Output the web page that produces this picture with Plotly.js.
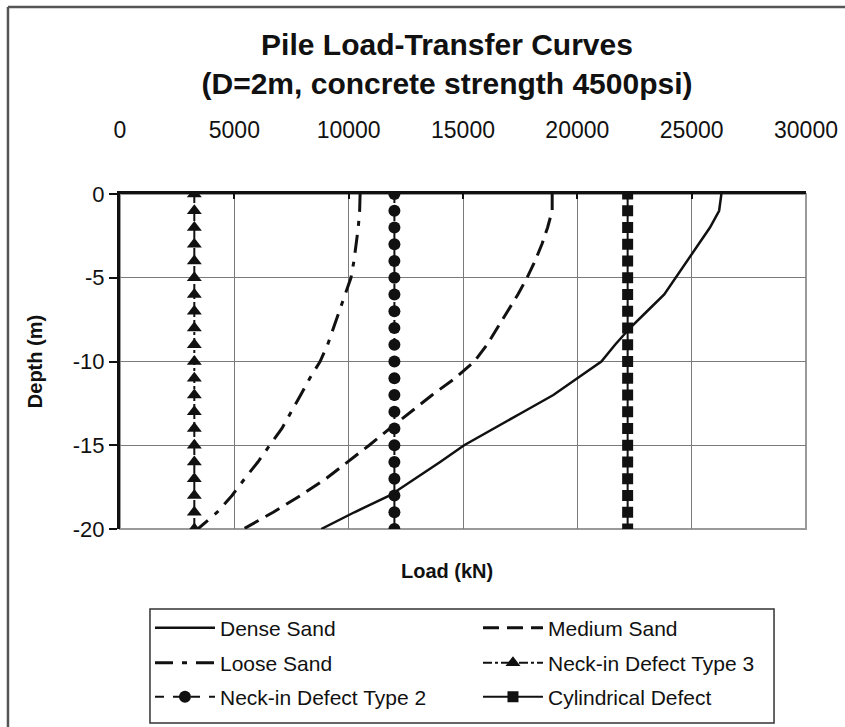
<!DOCTYPE html>
<html>
<head>
<meta charset="utf-8">
<script src="https://cdn.plot.ly/plotly-3.0.1.min.js"></script>
<style>html,body{margin:0;padding:0;background:#fff;overflow:hidden;}#chart{width:845px;height:727px;overflow:hidden;}</style>
</head>
<body>
<div id="chart"></div>
<script>
// Depth (m) at which each load value is read
const depth = [0,-1,-2,-3,-4,-5,-6,-7,-8,-9,-10,-11,-12,-13,-14,-15,-16,-17,-18,-19,-20];

// Load (kN) series
const denseSand   = [26300,26200,25800,25300,24800,24300,23800,23050,22300,21650,21050,20000,18950,17650,16350,15050,14000,12900,11800,10250,8800];
const mediumSand  = [18900,18900,18700,18450,18150,17800,17400,16950,16500,16050,15500,14650,13650,12700,11800,10900,9950,9000,7900,6700,5400];
const looseSand   = [10500,10480,10420,10330,10230,10100,9850,9600,9350,9080,8750,8300,7900,7500,7080,6550,6030,5450,4900,4250,3400];
const neckType3   = [3250,3250,3250,3250,3250,3250,3250,3250,3250,3250,3250,3250,3250,3250,3250,3250,3250,3250,3250,3250,3250];
const neckType2   = [12000,12000,12000,12000,12000,12000,12000,12000,12000,12000,12000,12000,12000,12000,12000,12000,12000,12000,12000,12000,12000];
const cylindrical = [22200,22200,22200,22200,22200,22200,22200,22200,22200,22200,22200,22200,22200,22200,22200,22200,22200,22200,22200,22200,22200];

const seriesNames = ['Dense Sand','Medium Sand','Loose Sand','Neck-in Defect Type 3','Neck-in Defect Type 2','Cylindrical Defect'];

// Tick labels
const xTickVals = [0,5000,10000,15000,20000,25000,30000];
const xTickText = ['0','5000','10000','15000','20000','25000','30000'];
const yTickVals = [0,-5,-10,-15,-20];
const yTickText = ['0','-5','-10','-15','-20'];

const FONT = 'Liberation Sans, Arial, sans-serif';
const black = '#111111';

const traces = [
  {x: denseSand, y: depth, name: seriesNames[0], mode: 'lines', legend: 'legend',
   line: {color: black, width: 2.5}},
  {x: mediumSand, y: depth, name: seriesNames[1], mode: 'lines', legend: 'legend',
   line: {color: black, width: 3, dash: '16px,8px'}},
  {x: looseSand, y: depth, name: seriesNames[2], mode: 'lines', legend: 'legend2',
   line: {color: black, width: 3, dash: '18px,9px,5px,9px'}},
  {x: neckType3, y: depth, name: seriesNames[3], mode: 'lines+markers', legend: 'legend2',
   line: {color: black, width: 2, dash: 'dashdot'},
   marker: {symbol: 'triangle-up', size: 13, color: black}},
  {x: neckType2, y: depth, name: seriesNames[4], mode: 'lines+markers', legend: 'legend3',
   line: {color: black, width: 2, dash: 'dash'},
   marker: {symbol: 'circle', size: 12, color: black}},
  {x: cylindrical, y: depth, name: seriesNames[5], mode: 'lines+markers', legend: 'legend3',
   line: {color: black, width: 2},
   marker: {symbol: 'square', size: 11, color: black}}
];

function legendRow(yPaper) {
  return {
    orientation: 'h', x: 0.0437, xanchor: 'left', y: yPaper, yanchor: 'middle',
    itemwidth: 60,
    entrywidth: 253, entrywidthmode: 'pixels',
    bgcolor: 'rgba(0,0,0,0)', borderwidth: 0,
    font: {family: FONT, size: 21, color: black},
    traceorder: 'normal'
  };
}

const layout = {
  width: 845, height: 727,
  paper_bgcolor: '#ffffff', plot_bgcolor: '#ffffff',
  margin: {l: 120, r: 39, t: 194, b: 198, autoexpand: false},
  font: {family: FONT, size: 21, color: black},
  showlegend: true,
  title: {
    text: 'Pile Load-Transfer Curves<br>(D=2m, concrete strength 4500psi)',
    font: {family: FONT, size: 30, weight: 'bold', color: black},
    x: 0.4767, xref: 'paper', xanchor: 'center',
    y: 0.9244, yref: 'container', yanchor: 'middle'
  },
  xaxis: {
    side: 'top', range: [0, 30000], autorange: false,
    tickvals: xTickVals, ticktext: xTickText,
    showline: true, linecolor: black, linewidth: 3,
    ticks: 'inside', ticklen: 5, tickwidth: 2, tickcolor: black,
    ticklabelstandoff: 44,
    showgrid: true, gridcolor: '#7a7a7a', gridwidth: 1,
    zeroline: false, tickfont: {family: FONT, size: 23, color: black},
    automargin: false
  },
  yaxis: {
    range: [-20, 0], autorange: false,
    tickvals: yTickVals, ticktext: yTickText,
    showline: true, linecolor: black, linewidth: 3,
    ticks: 'outside', ticklen: 8, tickwidth: 2, tickcolor: black,
    showgrid: true, gridcolor: '#7a7a7a', gridwidth: 1,
    zeroline: false, tickfont: {family: FONT, size: 22, color: black},
    title: {text: 'Depth (m)', font: {family: FONT, size: 20, weight: 'bold', color: black}, standoff: 25},
    automargin: false
  },
  legend: legendRow(-0.2955),
  legend2: legendRow(-0.40),
  legend3: legendRow(-0.5015),
  annotations: [
    {text: 'Load (kN)', xref: 'paper', yref: 'paper', x: 0.4767, y: -0.125, xanchor: 'center', yanchor: 'middle',
     showarrow: false, font: {family: FONT, size: 20, weight: 'bold', color: black}}
  ],
  shapes: [
    // plot-area border (right & bottom appear grey)
    {type: 'rect', xref: 'paper', yref: 'paper', x0: 0, x1: 1, y0: 0, y1: 1,
     line: {color: '#9a9a9a', width: 2}, layer: 'below'},
    // outer chart frame: top and left edges (others fall outside the picture)
    {type: 'line', xref: 'paper', yref: 'paper', x0: -0.1633, x1: 1.06, y0: 1.5582, y1: 1.5582,
     line: {color: '#555555', width: 2.5}, layer: 'below'},
    {type: 'line', xref: 'paper', yref: 'paper', x0: -0.1633, x1: -0.1633, y0: -0.6, y1: 1.5582,
     line: {color: '#555555', width: 2.5}, layer: 'below'},
    // legend box
    {type: 'rect', xref: 'paper', yref: 'paper', x0: 0.0437, x1: 0.9534, y0: -0.579, y1: -0.2388,
     line: {color: '#333333', width: 1.5}, layer: 'below'}
  ]
};

Plotly.newPlot('chart', traces, layout, {displayModeBar: false, staticPlot: true});
</script>
</body>
</html>
